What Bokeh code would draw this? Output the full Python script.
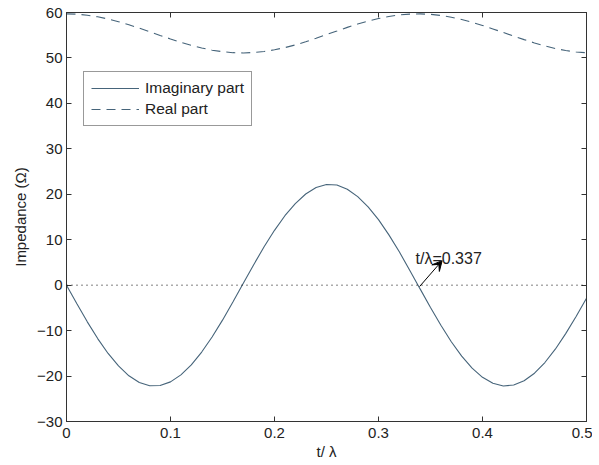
from bokeh.plotting import figure
from bokeh.models import (Range1d, LinearAxis, FixedTicker, Legend, LegendItem,
                          Label, Arrow, VeeHead, Span)
from bokeh.embed import file_html
from bokeh.resources import INLINE

# ---- data ----
t = [0.00, 0.01, 0.02, 0.03, 0.04, 0.05, 0.06, 0.07, 0.08, 0.09,
     0.10, 0.11, 0.12, 0.13, 0.14, 0.15, 0.16, 0.17, 0.18, 0.19,
     0.20, 0.21, 0.22, 0.23, 0.24, 0.25, 0.26, 0.27, 0.28, 0.29,
     0.30, 0.31, 0.32, 0.33, 0.34, 0.35, 0.36, 0.37, 0.38, 0.39,
     0.40, 0.41, 0.42, 0.43, 0.44, 0.45, 0.46, 0.47, 0.48, 0.49, 0.50]
imag_part = [0.0, -4.10, -8.07, -11.75, -15.03, -17.78, -19.94, -21.40, -22.12, -22.08,
             -21.28, -19.74, -17.54, -14.72, -11.41, -7.70, -3.69, 0.41, 4.50, 8.45,
             12.07, 15.28, 17.95, 20.06, 21.51, 22.16, 22.04, 21.11, 19.49, 17.22,
             14.41, 11.06, 7.35, 3.29, -0.82, -4.90, -8.82, -12.44, -15.62, -18.27,
             -20.28, -21.60, -22.18, -21.98, -21.04, -19.37, -17.02, -14.09, -10.66, -6.89,
             -2.88]
real_part = [59.70, 59.63, 59.41, 59.05, 58.57, 57.97, 57.29, 56.55, 55.76, 54.96,
             54.18, 53.43, 52.77, 52.18, 51.71, 51.37, 51.16, 51.10, 51.19, 51.42,
             51.79, 52.28, 52.87, 53.56, 54.33, 55.14, 55.91, 56.73, 57.46, 58.11,
             58.67, 59.13, 59.46, 59.65, 59.70, 59.59, 59.35, 58.96, 58.46, 57.84,
             57.15, 56.39, 55.60, 54.80, 54.03, 53.30, 52.64, 52.08, 51.63, 51.31,
             51.14]
x_ticks = [0, 0.1, 0.2, 0.3, 0.4, 0.5]
x_tick_labels = ["0", "0.1", "0.2", "0.3", "0.4", "0.5"]
y_ticks = [-30, -20, -10, 0, 10, 20, 30, 40, 50, 60]
y_tick_labels = ["\u221230", "\u221220", "\u221210", "0", "10", "20", "30", "40", "50", "60"]
series_names = ["Imaginary part", "Real part"]
annot_text = "t/\u03bb=0.337"
crossing_t = 0.337

FONT = "Liberation Sans"
AX = "#333333"
CURVE = "#46647a"

p = figure(width=592, height=462, output_backend="svg", toolbar_location=None,
           x_range=Range1d(0, 0.5), y_range=Range1d(-30, 60),
           min_border_left=66, min_border_right=6, min_border_top=12, min_border_bottom=41)
p.background_fill_color = "white"
p.border_fill_color = "white"
p.outline_line_color = AX
p.xgrid.visible = False
p.ygrid.visible = False

def style_axis(ax, ticks, labels, show_labels=True):
    ax.ticker = FixedTicker(ticks=ticks)
    ax.major_tick_in = 5
    ax.major_tick_out = 0
    ax.minor_tick_line_color = None
    ax.axis_line_color = AX
    ax.major_tick_line_color = AX
    ax.major_label_text_font = FONT
    ax.major_label_text_color = "#222222"
    ax.major_label_text_font_size = "15px"
    if show_labels:
        ax.major_label_overrides = {k: v for k, v in zip(ticks, labels)}
    else:
        ax.major_label_overrides = {k: "" for k in ticks}
        ax.major_label_standoff = 0

style_axis(p.xaxis[0], x_ticks, x_tick_labels)
style_axis(p.yaxis[0], y_ticks, y_tick_labels)
p.xaxis[0].major_label_standoff = 6
p.yaxis[0].major_label_standoff = 4
p.xaxis.axis_label = "t/ \u03bb"
p.yaxis.axis_label = "Impedance (\u03a9)"
for ax in (p.xaxis[0], p.yaxis[0]):
    ax.axis_label_text_font = FONT
    ax.axis_label_text_font_size = "15px"
    ax.axis_label_text_font_style = "normal"
    ax.axis_label_text_color = "#222222"
p.xaxis[0].axis_label_standoff = 2
p.yaxis[0].axis_label_standoff = 5

top_ax = LinearAxis()
style_axis(top_ax, x_ticks, x_tick_labels, show_labels=False)
p.add_layout(top_ax, "above")
right_ax = LinearAxis()
style_axis(right_ax, y_ticks, y_tick_labels, show_labels=False)
p.add_layout(right_ax, "right")

zero = Span(location=0, dimension="width", line_color="black", line_dash="1 4", line_width=1)
p.add_layout(zero)

r_imag = p.line(t, imag_part, line_color=CURVE, line_width=1.1)
r_real = p.line(t, real_part, line_color=CURVE, line_width=1.1, line_dash="9 6")

legend = Legend(items=[LegendItem(label=series_names[0], renderers=[r_imag]),
                       LegendItem(label=series_names[1], renderers=[r_real])],
                location=(17, 295))
legend.label_text_font = FONT
legend.label_text_font_size = "15.5px"
legend.label_text_color = "#222222"
legend.glyph_width = 48
legend.glyph_height = 18
legend.spacing = 3
legend.padding = 7
legend.margin = 0
legend.label_standoff = 6
legend.border_line_color = AX
legend.background_fill_alpha = 1
p.add_layout(legend)

p.add_layout(Arrow(x_start=0.3395, y_start=-0.3, x_end=0.3612, y_end=5.4,
                   line_color="black", line_width=1,
                   end=VeeHead(size=10, fill_color="black", line_color="black")))
p.add_layout(Label(x=0.3356, y=5.9, text=annot_text, text_font=FONT,
                   text_font_size="16px", text_color="#222222",
                   text_baseline="alphabetic"))

open("out.html", "w").write(file_html(p, INLINE))
